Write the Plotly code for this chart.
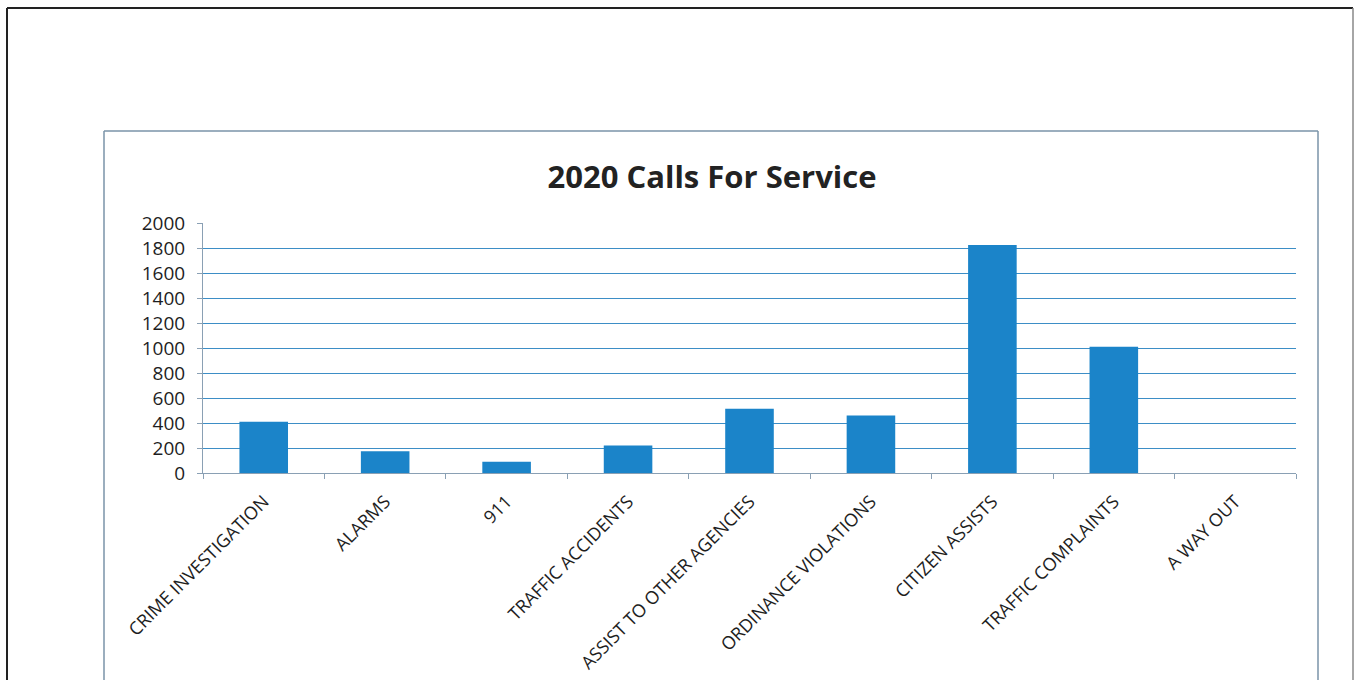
import plotly.graph_objects as go

categories = ["CRIME INVESTIGATION", "ALARMS", "911", "TRAFFIC ACCIDENTS",
              "ASSIST TO OTHER AGENCIES", "ORDINANCE VIOLATIONS",
              "CITIZEN ASSISTS", "TRAFFIC COMPLAINTS", "A WAY OUT"]
calls = [410, 175, 90, 220, 515, 460, 1825, 1010, 0]
y_ticks = list(range(0, 2001, 200))

W, H = 1360, 680
L, R, T, B = 203, 1296, 223, 473


def px(x):
    return (x - L) / (R - L)


def py(y):
    return (B - y) / (B - T)


fig = go.Figure(go.Bar(x=categories, y=calls, marker_color="#1b84c9",
                       marker_line_width=0))

shapes = [
    # outer page box
    dict(type="line", xref="paper", yref="paper", x0=px(7), x1=px(7), y0=py(8), y1=py(700),
         line=dict(color="#222222", width=2)),
    dict(type="line", xref="paper", yref="paper", x0=px(7), x1=px(1353), y0=py(8), y1=py(8),
         line=dict(color="#222222", width=2)),
    dict(type="line", xref="paper", yref="paper", x0=px(1353), x1=px(1353), y0=py(8), y1=py(700),
         line=dict(color="#888888", width=1.5)),
    # chart box
    dict(type="line", xref="paper", yref="paper", x0=px(104), x1=px(104), y0=py(131), y1=py(700),
         line=dict(color="#7a93a8", width=1.5)),
    dict(type="line", xref="paper", yref="paper", x0=px(104), x1=px(1318), y0=py(131), y1=py(131),
         line=dict(color="#7a93a8", width=1.5)),
    dict(type="line", xref="paper", yref="paper", x0=px(1318), x1=px(1318), y0=py(131), y1=py(700),
         line=dict(color="#7a93a8", width=1.5)),
]

fig.update_layout(
    width=W, height=H,
    margin=dict(l=L, r=W - R, t=T, b=H - B),
    paper_bgcolor="white", plot_bgcolor="white",
    showlegend=False,
    bargap=0.6,
    font=dict(family="Open Sans, sans-serif", color="#1e1e1e"),
    title=dict(text="<b>2020 Calls For Service</b>", x=px(712), xref="paper", xanchor="center",
               y=1 - 177 / H, yanchor="middle",
               font=dict(size=31, color="#222222")),
    shapes=shapes,
)

fig.update_xaxes(
    tickangle=-45, tickfont=dict(size=18, color="#1e1e1e"),
    showline=True, linecolor="#8aa0b4", linewidth=1,
    ticks="outside", tickson="boundaries", ticklen=5, tickcolor="#8aa0b4",
    ticklabelstandoff=10, automargin=False,
    showgrid=False,
)
fig.update_yaxes(
    range=[0, 2000], tickvals=y_ticks,
    tickfont=dict(size=19, color="#1e1e1e"),
    showline=True, linecolor="#8aa0b4", linewidth=1,
    ticks="outside", ticklen=5, tickcolor="#8aa0b4",
    ticklabelstandoff=8, automargin=False,
    showgrid=True, gridcolor="#3d8ec6", gridwidth=1,
    zeroline=False,
)

fig.write_html("out.html")
